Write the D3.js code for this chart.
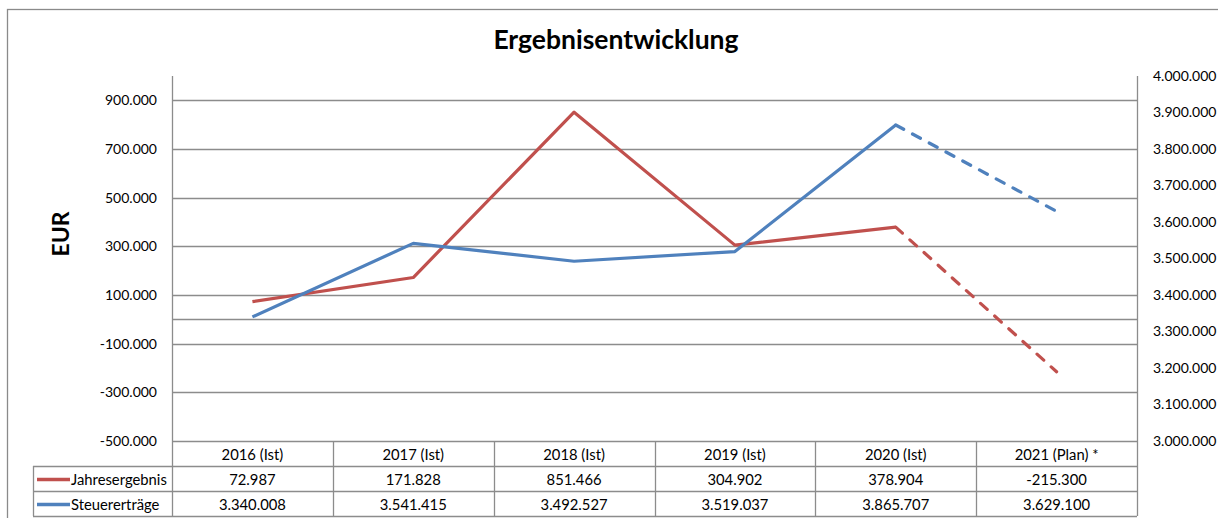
<!DOCTYPE html>
<html><head><meta charset="utf-8">
<script src="https://cdn.jsdelivr.net/npm/d3@7/dist/d3.min.js"></script>
<style>
html,body{margin:0;padding:0;background:#fff;}
svg{display:block;font-family:Lato,"Open Sans",sans-serif;}
</style></head>
<body>
<svg id="c" width="1218" height="518"></svg>
<script>
const categories = ["2016 (Ist)","2017 (Ist)","2018 (Ist)","2019 (Ist)","2020 (Ist)","2021 (Plan) *"];
const jahresergebnis = [72987,171828,851466,304902,378904,-215300];
const steuerertraege = [3340008,3541415,3492527,3519037,3865707,3629100];
const leftTicks = [-500000,-300000,-100000,100000,300000,500000,700000,900000];
const rightTicks = [3000000,3100000,3200000,3300000,3400000,3500000,3600000,3700000,3800000,3900000,4000000];
const series = [
  {name:"Jahresergebnis", values:jahresergebnis, color:"#C0504D", axis:"left"},
  {name:"Steuererträge", values:steuerertraege, color:"#4F81BD", axis:"right"}
];

const fmt = v => d3.format(",")(v).replace(/,/g,".").replace(/\u2212/g,"-");

const svg = d3.select("#c");
const L=172, R=1137, T=76, B=441;
const rowH = 25;
const legendX = 33;
const gridCol = "#8c8c8c";
const tfs = 14.8;

const x = d3.scaleBand().domain(categories).range([L,R]);
const yL = d3.scaleLinear().domain([-500000,1000000]).range([B,T]);
const yR = d3.scaleLinear().domain([3000000,4000000]).range([B,T]);

// outer border
svg.append("rect").attr("x",7.5).attr("y",9.5).attr("width",1400).attr("height",700)
  .attr("fill","none").attr("stroke","#8a8a8a").attr("stroke-width",1.3);

// title
svg.append("text").attr("x",616).attr("y",49).attr("text-anchor","middle")
  .attr("font-weight","bold").attr("font-size",26.5).attr("fill","#000").text("Ergebnisentwicklung");

// y title
svg.append("text").attr("transform","translate(69,234) rotate(-90)").attr("text-anchor","middle")
  .attr("font-weight","bold").attr("font-size",23).attr("fill","#000").text("EUR");

// gridlines
svg.append("g").selectAll("line").data(leftTicks.concat([0])).join("line")
  .attr("x1",L).attr("x2",R).attr("y1",d=>Math.round(yL(d))+0.5).attr("y2",d=>Math.round(yL(d))+0.5)
  .attr("stroke",gridCol).attr("stroke-width",1.3);

// left axis
const gL = svg.append("g").attr("transform",`translate(${L},0)`)
  .call(d3.axisLeft(yL).tickValues(leftTicks).tickSize(0).tickPadding(15).tickFormat(fmt));
gL.select(".domain").remove();
gL.selectAll("text").attr("font-size",14).attr("fill","#000").attr("font-family","Lato,'Open Sans',sans-serif");

// right axis
const gR = svg.append("g").attr("transform",`translate(${R},0)`)
  .call(d3.axisRight(yR).tickValues(rightTicks).tickSize(0).tickPadding(16).tickFormat(fmt));
gR.select(".domain").remove();
gR.selectAll("text").attr("font-size",14).attr("fill","#000").attr("font-family","Lato,'Open Sans',sans-serif");

// table lines
const tg = svg.append("g").attr("stroke",gridCol).attr("stroke-width",1.3);
const yH1 = B + rowH, yH2 = B + 2*rowH, yH3 = B + 3*rowH;
tg.append("line").attr("x1",legendX).attr("x2",R).attr("y1",yH1+0.5).attr("y2",yH1+0.5);
tg.append("line").attr("x1",legendX).attr("x2",R).attr("y1",yH2+0.5).attr("y2",yH2+0.5);
tg.append("line").attr("x1",legendX).attr("x2",R).attr("y1",yH3+0.5).attr("y2",yH3+0.5);
tg.append("line").attr("x1",legendX+0.5).attr("x2",legendX+0.5).attr("y1",yH1).attr("y2",yH3);
tg.append("line").attr("x1",L+0.5).attr("x2",L+0.5).attr("y1",T).attr("y2",yH3);
tg.append("line").attr("x1",R+0.5).attr("x2",R+0.5).attr("y1",T).attr("y2",yH3);
tg.selectAll(".sep").data(categories.slice(1)).join("line")
  .attr("x1",d=>Math.round(x(d))+0.5).attr("x2",d=>Math.round(x(d))+0.5).attr("y1",B).attr("y2",yH3);

// header
svg.append("g").selectAll("text").data(categories).join("text")
  .attr("x",d=>x(d)+x.bandwidth()/2).attr("y",B+rowH/2+1).attr("dy","0.35em")
  .attr("text-anchor","middle").attr("font-size",tfs).attr("fill","#000").text(d=>d);

// rows
series.forEach((s,i)=>{
  const cy = B + rowH*(i+1) + rowH/2 + 1;
  svg.append("line").attr("x1",legendX+4).attr("x2",legendX+37).attr("y1",cy).attr("y2",cy)
    .attr("stroke",s.color).attr("stroke-width",3.5);
  svg.append("text").attr("x",legendX+38).attr("y",cy).attr("dy","0.35em")
    .attr("font-size",tfs).attr("fill","#000").text(s.name);
  svg.append("g").selectAll("text").data(s.values).join("text")
    .attr("x",(d,j)=>x(categories[j])+x.bandwidth()/2).attr("y",cy).attr("dy","0.35em")
    .attr("text-anchor","middle").attr("font-size",tfs).attr("fill","#000").text(d=>fmt(d));
});

// lines
series.forEach(s=>{
  const yS = s.axis==="left"?yL:yR;
  const pts = s.values.map((v,j)=>[x(categories[j])+x.bandwidth()/2, yS(v)]);
  const line = d3.line();
  svg.append("path").attr("d",line(pts.slice(0,5))).attr("fill","none")
    .attr("stroke",s.color).attr("stroke-width",3.2).attr("stroke-linejoin","round");
  svg.append("path").attr("d",line(pts.slice(4))).attr("fill","none")
    .attr("stroke",s.color).attr("stroke-width",3.2).attr("stroke-dasharray","9,10")
    .attr("stroke-linecap","round");
});
</script>
</body></html>
